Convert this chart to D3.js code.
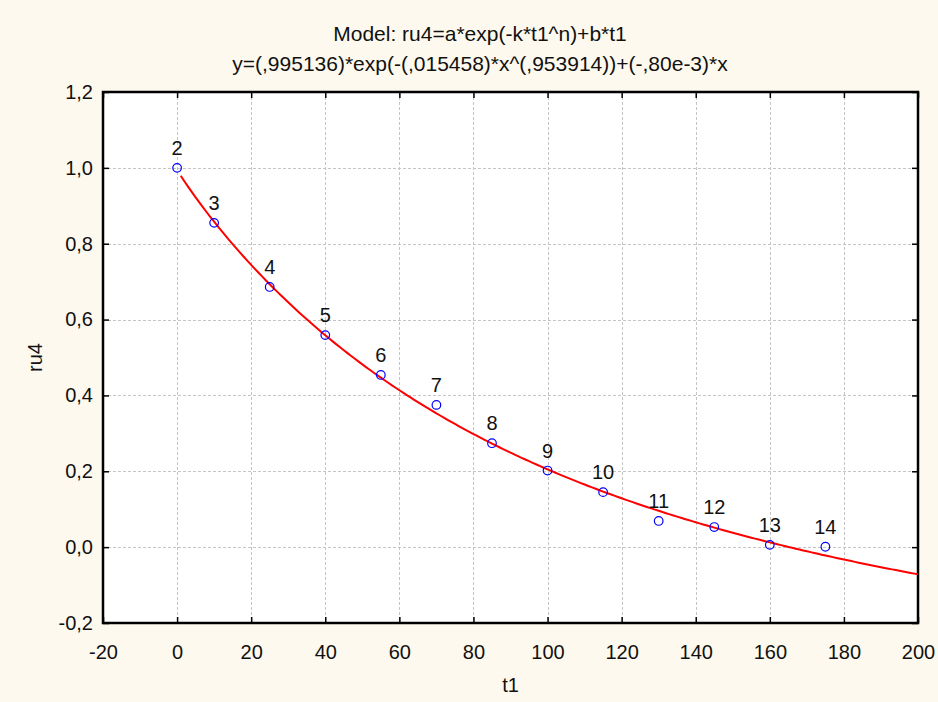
<!DOCTYPE html>
<html>
<head>
<meta charset="utf-8">
<script src="https://cdn.jsdelivr.net/npm/d3@7/dist/d3.min.js"></script>
<style>
  html, body { margin: 0; padding: 0; background: #FEF9EE; }
  svg { display: block; }
  text { font-family: "Liberation Sans", Arial, sans-serif; fill: #111; }
</style>
</head>
<body>
<svg id="chart" width="938" height="702"></svg>
<script>
// Observations: time t1 and measured ru4, with their case numbers
const caseIds = [2, 3, 4, 5, 6, 7, 8, 9, 10, 11, 12, 13, 14];
const t1Values = [0, 10, 25, 40, 55, 70, 85, 100, 115, 130, 145, 160, 175];
const ru4Values = [1.0, 0.855, 0.686, 0.559, 0.454, 0.375, 0.274, 0.202, 0.145, 0.069, 0.053, 0.006, 0.001];

// Fitted parameters of ru4 = a*exp(-k*t1^n) + b*t1
const paramA = 0.995136;
const paramK = 0.015458;
const paramN = 0.953914;
const paramB = -0.80e-3;

const xTicks = [-20, 0, 20, 40, 60, 80, 100, 120, 140, 160, 180, 200];
const yTicks = [-0.2, 0, 0.2, 0.4, 0.6, 0.8, 1.0, 1.2];

const titleLine1 = "Model: ru4=a*exp(-k*t1^n)+b*t1";
const titleLine2 = "y=(,995136)*exp(-(,015458)*x^(,953914))+(-,80e-3)*x";

const W = 938, H = 702;
const margin = { top: 92, right: 20, bottom: 79, left: 103 };
const innerW = W - margin.left - margin.right;
const innerH = H - margin.top - margin.bottom;
const labelSize = 20;
const titleSize = 21;

const svg = d3.select("#chart");
svg.append("rect").attr("width", W).attr("height", H).attr("fill", "#FEF9EE");

const x = d3.scaleLinear().domain([-20, 200]).range([margin.left, margin.left + innerW]);
const y = d3.scaleLinear().domain([-0.2, 1.2]).range([margin.top + innerH, margin.top]);

// plot area
svg.append("rect")
  .attr("x", margin.left).attr("y", margin.top)
  .attr("width", innerW).attr("height", innerH)
  .attr("fill", "#ffffff");

// dashed grid
const grid = svg.append("g").attr("stroke", "#c4c4c4").attr("stroke-width", 1).attr("stroke-dasharray", "3,2");
grid.selectAll("line.gx").data(xTicks.slice(1, -1)).join("line")
  .attr("x1", d => Math.round(x(d)) + 0.5).attr("x2", d => Math.round(x(d)) + 0.5)
  .attr("y1", margin.top).attr("y2", margin.top + innerH);
grid.selectAll("line.gy").data(yTicks.slice(1, -1)).join("line")
  .attr("y1", d => Math.round(y(d)) + 0.5).attr("y2", d => Math.round(y(d)) + 0.5)
  .attr("x1", margin.left).attr("x2", margin.left + innerW);

const fmt = d => d3.format(".1f")(d).replace(".", ",").replace("−", "-");
const fmtX = d => String(d);

// axes with inward ticks
const axisStyle = g => {
  g.select(".domain").remove();
  g.selectAll(".tick line").attr("stroke", "#000").attr("stroke-width", 1.5);
  g.selectAll(".tick text").attr("font-size", labelSize).attr("fill", "#111")
    .style("font-family", '"Liberation Sans", Arial, sans-serif');
};

svg.append("g")
  .attr("transform", `translate(0,${margin.top + innerH})`)
  .call(d3.axisBottom(x).tickValues(xTicks).tickFormat(fmtX).tickSizeInner(-6).tickPadding(22))
  .call(axisStyle);
svg.append("g")
  .attr("transform", `translate(0,${margin.top})`)
  .call(d3.axisTop(x).tickValues(xTicks).tickFormat("").tickSizeInner(-6))
  .call(axisStyle);
svg.append("g")
  .attr("transform", `translate(${margin.left},0)`)
  .call(d3.axisLeft(y).tickValues(yTicks).tickFormat(fmt).tickSizeInner(-6).tickPadding(10))
  .call(axisStyle);
svg.append("g")
  .attr("transform", `translate(${margin.left + innerW},0)`)
  .call(d3.axisRight(y).tickValues(yTicks).tickFormat("").tickSizeInner(-6))
  .call(axisStyle);

// frame
svg.append("rect")
  .attr("x", margin.left).attr("y", margin.top)
  .attr("width", innerW).attr("height", innerH)
  .attr("fill", "none").attr("stroke", "#000").attr("stroke-width", 2.5);

// fitted curve
const model = t => paramA * Math.exp(-paramK * Math.pow(t, paramN)) + paramB * t;
const curveT = d3.range(1, 200.01, 1);
const clipId = "plotclip";
svg.append("clipPath").attr("id", clipId).append("rect")
  .attr("x", margin.left).attr("y", margin.top).attr("width", innerW).attr("height", innerH);
svg.append("path")
  .datum(curveT)
  .attr("clip-path", `url(#${clipId})`)
  .attr("fill", "none").attr("stroke", "#ff0000").attr("stroke-width", 2)
  .attr("d", d3.line().x(t => x(t)).y(t => y(model(t))));

// observed points
const pts = t1Values.map((t, i) => ({ t, v: ru4Values[i], id: caseIds[i] }));
svg.append("g").selectAll("circle").data(pts).join("circle")
  .attr("cx", d => x(d.t)).attr("cy", d => y(d.v)).attr("r", 4.3)
  .attr("fill", "none").attr("stroke", "#0000ff").attr("stroke-width", 1.2);
svg.append("g").selectAll("text").data(pts).join("text")
  .attr("x", d => x(d.t)).attr("y", d => y(d.v) - 13)
  .attr("text-anchor", "middle").attr("font-size", labelSize)
  .text(d => d.id);

// titles
svg.append("text").attr("x", 480).attr("y", 41).attr("text-anchor", "middle")
  .attr("font-size", titleSize).text(titleLine1);
svg.append("text").attr("x", 480).attr("y", 71).attr("text-anchor", "middle")
  .attr("font-size", titleSize).text(titleLine2);

// axis titles
svg.append("text").attr("x", x(90)).attr("y", 692).attr("text-anchor", "middle")
  .attr("font-size", labelSize).text("t1");
svg.append("text").attr("transform", `translate(42,${y(0.5)}) rotate(-90)`)
  .attr("text-anchor", "middle").attr("font-size", labelSize).text("ru4");
</script>
</body>
</html>
